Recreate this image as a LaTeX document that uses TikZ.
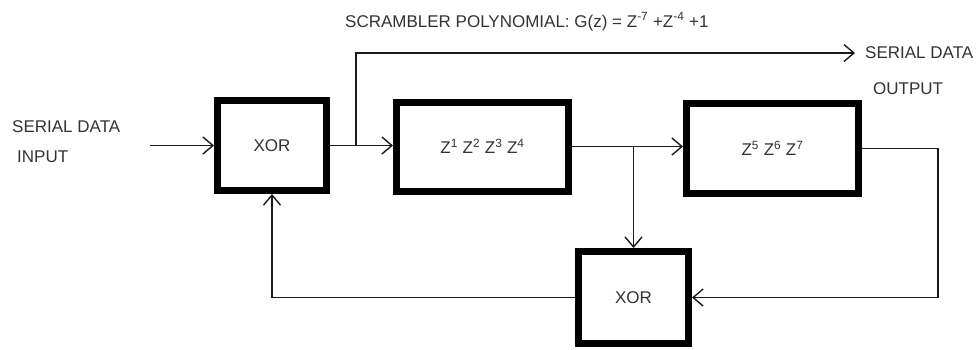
\documentclass[tikz,border=0pt]{standalone}
\usepackage{fontspec}
\setmainfont{Liberation Sans}
\usetikzlibrary{arrows.meta}
\definecolor{inkgray}{HTML}{333333}
\definecolor{wire}{HTML}{1A1A1A}
\begin{document}
\begin{tikzpicture}[x=1pt,y=-1pt,
  font=\fontsize{17}{20}\selectfont,
  block/.style={draw=black,line width=7pt,fill=white,text=inkgray,inner sep=0pt},
  label/.style={text=inkgray,inner sep=0pt,anchor=base west},
  wireline/.style={draw=wire,line width=1.4pt},
  flow/.style={wireline,-{Straight Barb[length=10pt,width=17pt]}}]
\useasboundingbox (0,0) rectangle (979,349);

% blocks
\node[block,minimum width=109pt,minimum height=90pt] (x1) at (272,145.5) {XOR};
\node[block,minimum width=172pt,minimum height=89pt] (z1) at (482.5,146.5)
  {Z\textsuperscript{1} Z\textsuperscript{2} Z\textsuperscript{3} Z\textsuperscript{4}};
\node[block,minimum width=172pt,minimum height=90pt] (z5) at (772.5,148.5)
  {Z\textsuperscript{5} Z\textsuperscript{6} Z\textsuperscript{7}};
\node[block,minimum width=110pt,minimum height=92pt] (x2) at (633.5,297.5) {XOR};

% texts
\node[label] (title) at (345,27)
  {SCRAMBLER POLYNOMIAL: G(z) = Z\textsuperscript{-7} +Z\textsuperscript{-4} +1};
\node[label] (in1) at (12,132) {SERIAL DATA};
\node[label] (in2) at (17,162) {INPUT};
\node[label] (out1) at (865,58) {SERIAL DATA};
\node[label] (out2) at (873,94) {OUTPUT};

% connection points
\coordinate (src) at (150,145.5);
\coordinate (br) at (356,145.5);
\coordinate (sink) at (855,53);
\coordinate (tap) at (x2.north |- z1.east);
\coordinate (rc) at (938,148.5);

% connectors
\draw[flow] (src) -- (x1.west);
\draw[flow] (x1.east) -- (z1.west |- x1.east);
\draw[flow] (br) |- (sink);
\draw[flow] (z1.east) -- (z5.west |- z1.east);
\draw[flow] (tap) -- (x2.north);
\draw[flow] (z5.east) -- (rc) |- (x2.east);
\draw[flow] (x2.west) -| (x1.south);
\end{tikzpicture}
\end{document}
